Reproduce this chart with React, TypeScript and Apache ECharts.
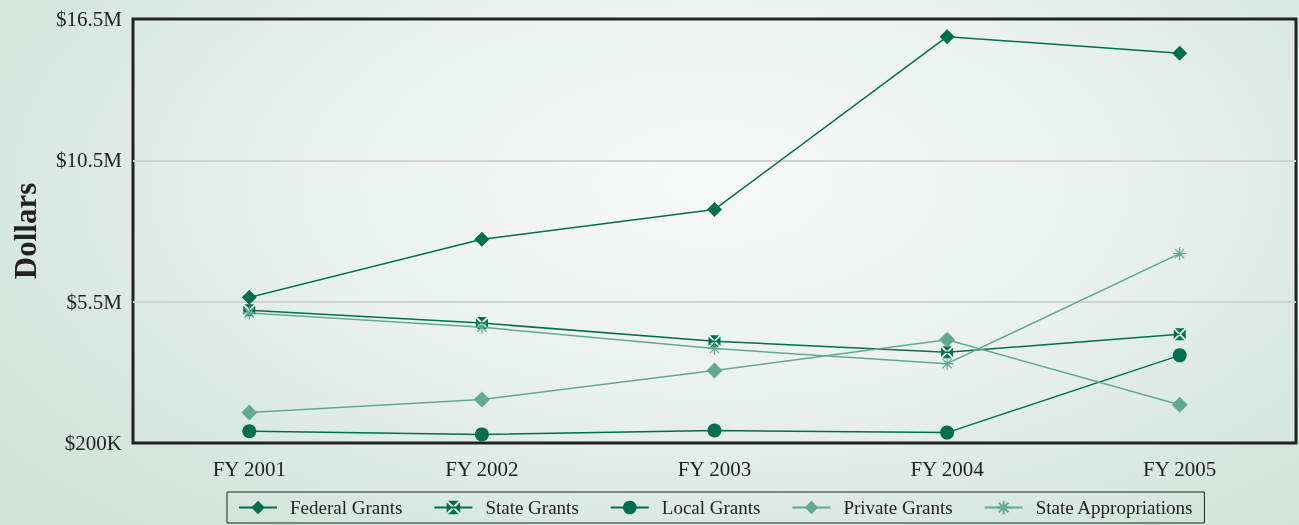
import React, { useEffect, useRef } from "react";
import * as echarts from "echarts";

const categories = ["FY 2001", "FY 2002", "FY 2003", "FY 2004", "FY 2005"];
// values in millions of dollars
const federalGrants = [5.8, 8.03, 9.18, 15.82, 15.18];
const stateGrants = [5.3, 4.81, 4.11, 3.69, 4.38];
const localGrants = [0.65, 0.53, 0.68, 0.6, 3.57];
const privateGrants = [1.37, 1.87, 2.99, 4.17, 1.67];
const stateAppropriations = [5.2, 4.65, 3.83, 3.25, 7.48];

const yTickValues = [0.2, 5.6333, 11.0667, 16.5];
const yTickLabels = ["$200K", "$5.5M", "$10.5M", "$16.5M"];
const yGridValues = [5.6333, 11.0667];

const DARK = "#006e4f";
const LIGHT = "#62a993";
const FONT = "'Liberation Serif', 'Times New Roman', serif";

const boxX =
  "path://M1.1 0L8.9 0L5 3.9ZM10 1.1L10 8.9L6.1 5ZM1.1 10L8.9 10L5 6.1ZM0 1.1L0 8.9L3.9 5Z";
const asterisk = "path://M5 0L5 10M0 5L10 5M1.5 1.5L8.5 8.5M8.5 1.5L1.5 8.5";

export default function App() {
  const ref = useRef<HTMLDivElement>(null);
  useEffect(() => {
    if (!ref.current) return;
    const chart = echarts.init(ref.current, undefined, { renderer: "svg" });
    const mk = (name: string, data: number[], color: string, symbol: string, size: number, extra: any = {}) => ({
      name,
      type: "line",
      data,
      symbol,
      symbolSize: size,
      showSymbol: true,
      lineStyle: { color, width: 1.5 },
      itemStyle: { color, ...extra },
      emphasis: { disabled: true },
    });
    chart.setOption({
      animation: false,
      textStyle: { fontFamily: FONT },
      grid: {
        left: 133,
        right: 3,
        top: 19,
        bottom: 82,
        show: true,
        borderColor: "#222",
        borderWidth: 3,
        backgroundColor: "transparent",
      },
      xAxis: {
        type: "category",
        data: categories,
        axisLine: { show: false },
        axisTick: { show: false },
        axisLabel: { margin: 15, fontSize: 21, color: "#222", fontFamily: FONT },
      },
      yAxis: {
        type: "value",
        min: 0.2,
        max: 16.5,
        axisLine: { show: false },
        axisTick: { show: false, customValues: yGridValues },
        axisLabel: {
          customValues: yTickValues,
          margin: 11,
          fontSize: 21,
          color: "#222",
          fontFamily: FONT,
          formatter: (v: number) => {
            const i = yTickValues.findIndex((t) => Math.abs(t - v) < 0.01);
            return i >= 0 ? yTickLabels[i] : "";
          },
        },
        splitLine: { show: true, lineStyle: { color: "#d2d2d2", width: 2 } },
      },
      legend: {
        left: 227,
        top: 492,
        padding: [6, 11, 6, 11],
        borderColor: "#222",
        borderWidth: 1,
        itemGap: 31,
        itemWidth: 38,
        itemHeight: 17,
        textStyle: { fontSize: 19, color: "#222", fontFamily: FONT, padding: [0, 0, 0, 8] },
        data: ["Federal Grants", "State Grants", "Local Grants", "Private Grants", "State Appropriations"],
      },
      graphic: [
        {
          type: "text",
          x: 25,
          y: 231,
          rotation: Math.PI / 2,
          style: {
            text: "Dollars",
            fontSize: 31,
            fontWeight: "bold",
            fontFamily: FONT,
            fill: "#222",
            textAlign: "center",
            textVerticalAlign: "middle",
          },
        },
      ],
      series: [
        mk("Federal Grants", federalGrants, DARK, "diamond", 15),
        mk("State Grants", stateGrants, DARK, boxX, 12),
        mk("Local Grants", localGrants, DARK, "circle", 14),
        mk("Private Grants", privateGrants, LIGHT, "diamond", 16),
        mk("State Appropriations", stateAppropriations, LIGHT, asterisk, 13, {
          borderColor: LIGHT,
          borderWidth: 1.2,
        }),
      ],
    });
    return () => chart.dispose();
  }, []);
  return (
    <div
      style={{
        position: "fixed",
        left: 0,
        top: 0,
        width: 1299,
        height: 525,
        background:
          "radial-gradient(ellipse 70% 90% at 55% 35%, #f7f9f8 0%, #eaf1ee 45%, #d9e8e2 75%, #cfe3da 100%)",
      }}
    >
      <div ref={ref} style={{ width: 1299, height: 525 }} />
    </div>
  );
}
